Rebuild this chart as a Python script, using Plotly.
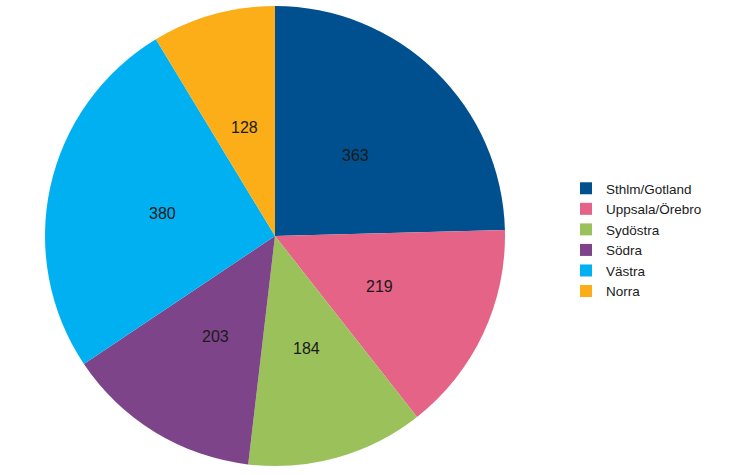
import math
import plotly.graph_objects as go

regions = ["Sthlm/Gotland", "Uppsala/Örebro", "Sydöstra", "Södra", "Västra", "Norra"]
counts = [363, 219, 184, 203, 380, 128]
colors = ["#00508F", "#E46386", "#9BC15B", "#7D4489", "#00B0F0", "#FBAE17"]

W, H = 743, 475
dom_x = [45 / W, 505 / W]
dom_y = [8 / H, 470 / H]

fig = go.Figure(go.Pie(
    labels=regions,
    values=counts,
    sort=False,
    direction="clockwise",
    rotation=0,
    marker=dict(colors=colors, line=dict(width=0)),
    textinfo="none",
    domain=dict(x=dom_x, y=dom_y),
    hoverinfo="label+value",
))

# value labels at half radius along each slice's mid-angle (derived from data)
cx = (dom_x[0] + dom_x[1]) / 2
cy = (dom_y[0] + dom_y[1]) / 2
r_px = min((dom_x[1] - dom_x[0]) * W, (dom_y[1] - dom_y[0]) * H) / 2
total = sum(counts)
cum = 0
for v in counts:
    mid = (cum + v / 2) / total * 2 * math.pi
    cum += v
    rr = 0.5 * r_px
    fig.add_annotation(
        x=cx + rr * math.sin(mid) / W, y=cy + rr * math.cos(mid) / H - 2 / H,
        xref="paper", yref="paper", xanchor="center", yanchor="middle",
        text=str(v), showarrow=False,
        font=dict(family="Liberation Sans, Arial, sans-serif", size=16, color="#1a1a1a"),
    )

fig.update_layout(
    width=W, height=H,
    margin=dict(l=0, r=0, t=0, b=0),
    paper_bgcolor="white",
    showlegend=True,
    legend=dict(
        x=566 / W, y=1 - 173 / H, xanchor="left", yanchor="top",
        font=dict(family="Liberation Sans, Arial, sans-serif", size=13.5, color="#1a1a1a"),
        itemwidth=30, tracegroupgap=0,
    ),
)
fig.write_html("out.html", config={"displayModeBar": False},
               post_script="document.body.style.margin='0';")
